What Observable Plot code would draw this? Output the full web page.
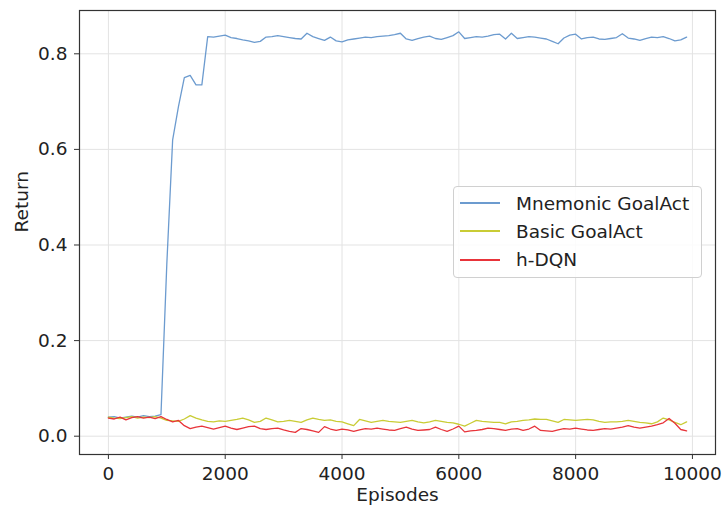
<!DOCTYPE html>
<html>
<head>
<meta charset="utf-8">
<script src="https://cdn.jsdelivr.net/npm/d3@7"></script>
<script src="https://cdn.jsdelivr.net/npm/@observablehq/plot@0.6"></script>
<style>
  body { margin: 0; background: white; }
  #wrap { position: relative; width: 725px; height: 512px; font-family: "DejaVu Sans", sans-serif; }
  #legend { position: absolute; left: 453px; top: 186px; width: 249px; height: 92px;
    border: 1px solid #d0d0d0; border-radius: 4px; background: rgba(255,255,255,0.85); box-sizing: border-box; }
  .row { position: absolute; left: 0; height: 28px; display: flex; align-items: center; font-size: 18.5px; color: #222; }
  .row .sw { display: inline-block; width: 40px; height: 2px; margin-left: 6px; margin-right: 16px; }
</style>
</head>
<body>
<div id="wrap"></div>
<script>
const seriesNames = ["Mnemonic GoalAct", "Basic GoalAct", "h-DQN"];
const seriesColors = ["#6c9bcf", "#c9cc35", "#e8343a"];

const episodes = [
  0,100,200,300,400,500,600,700,800,900,
  1000,1100,1200,1300,1400,1500,1600,1700,1800,1900,
  2000,2100,2200,2300,2400,2500,2600,2700,2800,2900,
  3000,3100,3200,3300,3400,3500,3600,3700,3800,3900,
  4000,4100,4200,4300,4400,4500,4600,4700,4800,4900,
  5000,5100,5200,5300,5400,5500,5600,5700,5800,5900,
  6000,6100,6200,6300,6400,6500,6600,6700,6800,6900,
  7000,7100,7200,7300,7400,7500,7600,7700,7800,7900,
  8000,8100,8200,8300,8400,8500,8600,8700,8800,8900,
  9000,9100,9200,9300,9400,9500,9600,9700,9800,9900
];

const mnemonic = [
  0.040,0.041,0.038,0.040,0.042,0.040,0.043,0.041,0.042,0.045,
  0.360,0.620,0.690,0.750,0.755,0.735,0.735,0.836,0.835,0.837,
  0.839,0.834,0.832,0.829,0.827,0.824,0.826,0.835,0.836,0.838,
  0.836,0.834,0.832,0.831,0.843,0.836,0.832,0.828,0.835,0.827,
  0.825,0.829,0.831,0.833,0.835,0.834,0.836,0.837,0.838,0.840,
  0.843,0.831,0.828,0.832,0.835,0.837,0.832,0.830,0.834,0.838,
  0.846,0.832,0.834,0.836,0.835,0.837,0.840,0.841,0.831,0.843,
  0.832,0.834,0.836,0.835,0.833,0.831,0.826,0.821,0.833,0.839,
  0.841,0.831,0.834,0.835,0.831,0.830,0.832,0.834,0.842,0.833,
  0.831,0.828,0.832,0.835,0.834,0.836,0.832,0.827,0.829,0.835
];

const basic = [
  0.040,0.038,0.037,0.039,0.041,0.038,0.040,0.039,0.041,0.038,
  0.033,0.032,0.031,0.036,0.043,0.038,0.034,0.031,0.030,0.032,
  0.031,0.033,0.035,0.038,0.034,0.029,0.031,0.038,0.034,0.030,
  0.031,0.033,0.031,0.029,0.034,0.038,0.035,0.033,0.034,0.031,
  0.030,0.026,0.022,0.035,0.032,0.029,0.031,0.033,0.031,0.030,
  0.029,0.031,0.033,0.030,0.028,0.030,0.033,0.031,0.029,0.028,
  0.025,0.021,0.027,0.033,0.031,0.030,0.029,0.029,0.026,0.030,
  0.031,0.033,0.034,0.036,0.035,0.035,0.032,0.029,0.035,0.034,
  0.033,0.034,0.035,0.034,0.031,0.029,0.030,0.030,0.031,0.033,
  0.031,0.029,0.028,0.026,0.030,0.038,0.034,0.029,0.024,0.030
];

const hdqn = [
  0.038,0.036,0.040,0.034,0.039,0.041,0.038,0.040,0.037,0.041,
  0.035,0.030,0.033,0.022,0.016,0.019,0.021,0.018,0.015,0.018,
  0.021,0.017,0.014,0.017,0.020,0.021,0.016,0.014,0.016,0.017,
  0.013,0.010,0.008,0.016,0.014,0.011,0.008,0.020,0.015,0.012,
  0.015,0.013,0.010,0.013,0.016,0.015,0.017,0.015,0.013,0.012,
  0.016,0.019,0.015,0.012,0.013,0.014,0.019,0.014,0.010,0.015,
  0.021,0.009,0.011,0.012,0.014,0.017,0.016,0.014,0.012,0.015,
  0.016,0.012,0.015,0.021,0.012,0.011,0.010,0.013,0.016,0.015,
  0.017,0.015,0.013,0.012,0.014,0.016,0.015,0.017,0.019,0.022,
  0.019,0.017,0.019,0.021,0.024,0.028,0.037,0.027,0.014,0.011
];

const xTicks = [0, 2000, 4000, 6000, 8000, 10000];
const yTicks = [0.0, 0.2, 0.4, 0.6, 0.8];
const xLabel = "Episodes";
const yLabel = "Return";

const allSeries = [mnemonic, basic, hdqn];
const rows = [];
allSeries.forEach((vals, si) => {
  episodes.forEach((e, i) => rows.push({ episode: e, value: vals[i], series: seriesNames[si] }));
});

const fs = 18.5;
const chart = Plot.plot({
  width: 725,
  height: 512,
  marginLeft: 79,
  marginRight: 10,
  marginTop: 10,
  marginBottom: 58,
  style: { fontFamily: "DejaVu Sans, sans-serif", fontSize: fs + "px", color: "#222", background: "white", overflow: "visible" },
  x: { domain: [-495, 10395] },
  y: { domain: [-0.0383, 0.8906] },
  color: { domain: seriesNames, range: seriesColors },
  marks: [
    Plot.gridX(xTicks, { stroke: "#e3e3e3", strokeOpacity: 1, strokeWidth: 1 }),
    Plot.gridY(yTicks, { stroke: "#e3e3e3", strokeOpacity: 1, strokeWidth: 1 }),
    Plot.axisX(xTicks, { tickSize: 5, tickPadding: 7, tickFormat: d => String(d), label: null, fontSize: fs, stroke: "#333" }),
    Plot.axisY(yTicks, { tickSize: 5, tickPadding: 7, tickFormat: d => d.toFixed(1), label: null, fontSize: fs, stroke: "#333" }),
    Plot.line(rows, { x: "episode", y: "value", z: "series", stroke: "series", strokeWidth: 1.3 }),
    Plot.frame({ stroke: "#333", strokeWidth: 1.2 }),
    Plot.text([xLabel], { frameAnchor: "bottom", dy: 46, text: d => d, fontSize: fs, fill: "#222" }),
    Plot.text([yLabel], { frameAnchor: "left", dx: -57.7, rotate: -90, text: d => d, fontSize: fs, fill: "#222" })
  ]
});

const wrap = document.getElementById("wrap");
wrap.appendChild(chart);

const legend = document.createElement("div");
legend.id = "legend";
const rowTops = [2, 30, 58.5];
seriesNames.forEach((name, i) => {
  const r = document.createElement("div");
  r.className = "row";
  r.style.top = rowTops[i] + "px";
  const sw = document.createElement("span");
  sw.className = "sw";
  sw.style.backgroundColor = seriesColors[i];
  const t = document.createElement("span");
  t.textContent = name;
  r.appendChild(sw);
  r.appendChild(t);
  legend.appendChild(r);
});
wrap.appendChild(legend);
</script>
</body>
</html>
